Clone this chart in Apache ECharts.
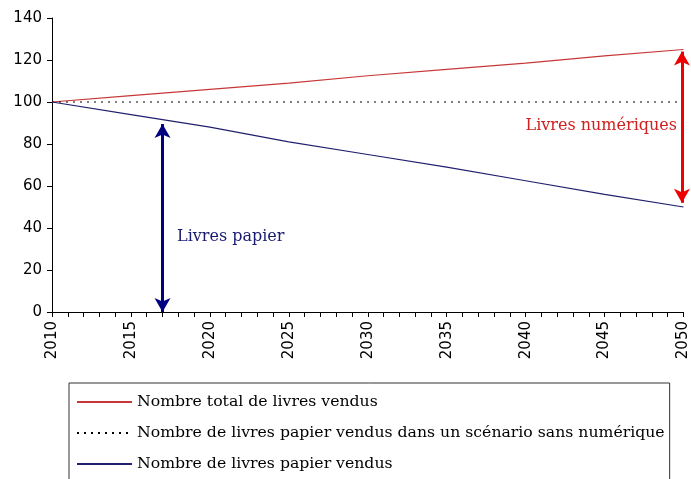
<!DOCTYPE html>
<html lang="fr">
<head>
<meta charset="UTF-8">
<title>Livres vendus</title>
<script src="https://cdn.jsdelivr.net/npm/echarts@6/dist/echarts.min.js"></script>
<style>
  html, body { margin: 0; padding: 0; background: #fff; }
  #chart { width: 691px; height: 479px; }
</style>
</head>
<body>
<div id="chart"></div>
<script>
// valeurs, tous les 5 ans
var years = [2010, 2015, 2020, 2025, 2030, 2035, 2040, 2045, 2050];
var totalVendus = [100, 103, 106, 109, 112.5, 115.5, 118.5, 122, 125];
var sansNumerique = [100, 100, 100, 100, 100, 100, 100, 100, 100];
var papierVendus = [100, 94, 88, 81, 75, 69, 62.5, 56, 50];
var names = [
  'Nombre total de livres vendus',
  'Nombre de livres papier vendus dans un scénario sans numérique',
  'Nombre de livres papier vendus'
];
// flèches : [annee, bas, haut]
var flechePapier = [2017, 0, 89.5];
var flecheNum = [2049.9, 52, 124];

function pts(vals) {
  return years.map(function (y, i) { return [y, vals[i]]; });
}

var chart = echarts.init(document.getElementById('chart'));
var serif = '"DejaVu Serif", serif';
var sans = '"DejaVu Sans", sans-serif';

chart.setOption({
  animation: false,
  grid: { left: 52, right: 6, top: 18, bottom: 167 },
  xAxis: {
    type: 'value',
    min: 2010, max: 2050, interval: 5,
    axisLine: { lineStyle: { color: '#000', width: 1 } },
    axisTick: { show: true, length: 5, lineStyle: { color: '#000' } },
    minorTick: { show: true, splitNumber: 5, length: 5, lineStyle: { color: '#000' } },
    splitLine: { show: false },
    axisLabel: {
      rotate: 90, color: '#000', fontSize: 15, margin: 9, fontFamily: sans,
      formatter: function (v) { return String(v); }
    }
  },
  yAxis: {
    type: 'value',
    min: 0, max: 140, interval: 20,
    axisLine: { show: true, lineStyle: { color: '#000', width: 1 } },
    axisTick: { show: true, length: 5, lineStyle: { color: '#000' } },
    splitLine: { show: false },
    axisLabel: { color: '#000', fontSize: 15, margin: 10, fontFamily: sans }
  },
  legend: {
    orient: 'vertical',
    left: 69, top: 383,
    height: 200,
    padding: [11, 5, 40, 7],
    itemGap: 15,
    itemWidth: 55, itemHeight: 2,
    borderColor: '#333', borderWidth: 1,
    itemStyle: { opacity: 0 },
    textStyle: { color: '#000', fontSize: 15.7, fontFamily: serif },
    data: names
  },
  series: [
    {
      name: names[0], type: 'line', symbol: 'none',
      data: pts(totalVendus),
      lineStyle: { color: '#c83737', width: 1.2 },
      itemStyle: { color: '#c83737' },
      markLine: {
        silent: true, symbol: ['arrow', 'arrow'], symbolSize: [12, 14],
        lineStyle: { color: '#ee0000', width: 3, type: 'solid' },
        label: { show: false },
        data: [[{ coord: [flecheNum[0], flecheNum[1]] }, { coord: [flecheNum[0], flecheNum[2]] }]]
      }
    },
    {
      name: names[1], type: 'line', symbol: 'none',
      data: pts(sansNumerique),
      lineStyle: { color: '#000', width: 1, type: [2, 5] },
      itemStyle: { color: '#000' }
    },
    {
      name: names[2], type: 'line', symbol: 'none',
      data: pts(papierVendus),
      lineStyle: { color: '#20206e', width: 1.2 },
      itemStyle: { color: '#20206e' },
      markLine: {
        silent: true, symbol: ['arrow', 'arrow'], symbolSize: [12, 14],
        lineStyle: { color: '#000080', width: 3, type: 'solid' },
        label: { show: false },
        data: [[{ coord: [flechePapier[0], flechePapier[1]] }, { coord: [flechePapier[0], flechePapier[2]] }]]
      }
    }
  ],
  graphic: [
    {
      type: 'text',
      style: { x: 177, y: 237, verticalAlign: 'middle', text: 'Livres papier', fill: '#1a1a70', fontSize: 16, fontFamily: serif }
    },
    {
      type: 'text',
      style: { x: 677, y: 126, align: 'right', verticalAlign: 'middle', text: 'Livres numériques', fill: '#d02020', fontSize: 16, fontFamily: serif }
    }
  ]
});
</script>
</body>
</html>
